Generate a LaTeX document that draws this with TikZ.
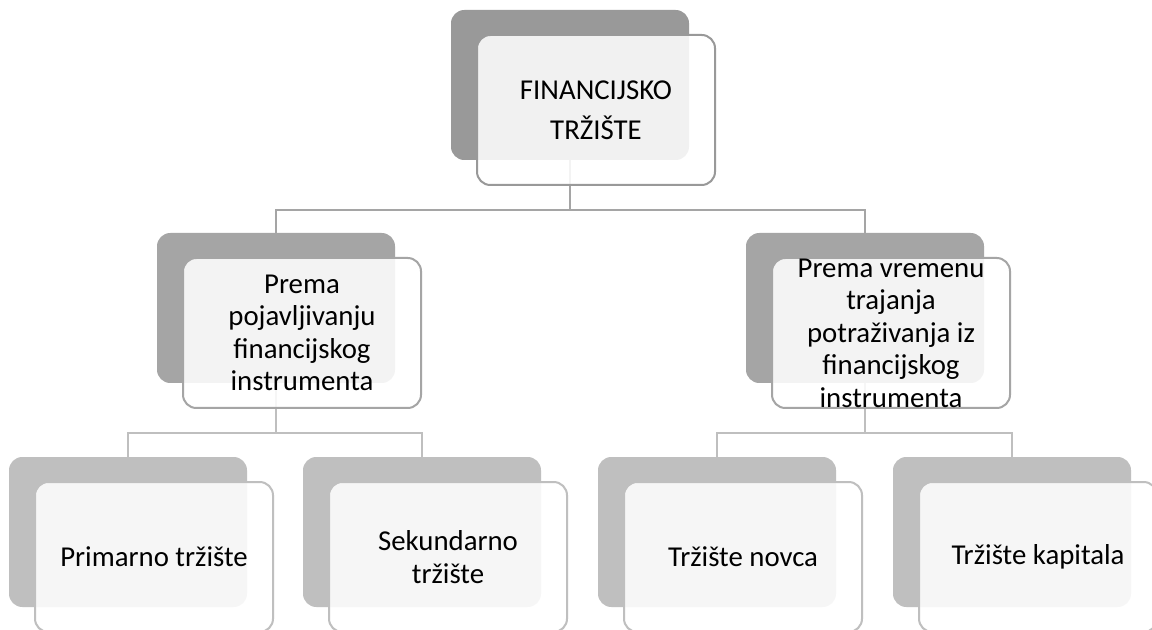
\documentclass[tikz,border=0pt]{standalone}
\usepackage{fontspec}
\setmainfont{Carlito}
\usepackage{tikz}
\usetikzlibrary{positioning}
\definecolor{topgray}{RGB}{153,153,153}
\definecolor{midgray}{RGB}{165,165,165}
\definecolor{lowgray}{RGB}{191,191,191}

\begin{document}
\begin{tikzpicture}[x=0.75pt, y=-0.75pt,
  backbox/.style={minimum width=178.5pt, minimum height=112.5pt, rounded corners=10pt, inner sep=0pt},
  frontbox/.style={backbox, draw=#1, line width=1.5pt, fill=white, fill opacity=0.87},
  txt/.style={align=center, text=black, inner sep=0pt, font=\fontsize{21.6}{24.4}\selectfont},
  conn/.style={draw=#1, line width=1.5pt}]
  \fill[white] (0,0) rectangle (1152,630);
  \clip (0,0) rectangle (1152,630);
  % back boxes
  \node[backbox, fill=topgray] (topb) at (570,85) {};
  \node[backbox, fill=midgray] (l2ab) at (276,308) {};
  \node[backbox, fill=midgray] (l2bb) at (865,308) {};
  \node[backbox, fill=lowgray] (l3ab) at (128,532) {};
  \node[backbox, fill=lowgray] (l3bb) at (422,532) {};
  \node[backbox, fill=lowgray] (l3cb) at (717,532) {};
  \node[backbox, fill=lowgray] (l3db) at (1012,532) {};
  % connectors
  \coordinate (j0) at (570,210);
  \coordinate (j1) at (276,433);
  \coordinate (j2) at (865,433);
  \draw[conn=midgray] (topb.south) -- (j0) -| (l2ab.north);
  \draw[conn=midgray] (j0) -| (l2bb.north);
  \draw[conn=lowgray] (l2ab.south) -- (j1) -| (l3ab.north);
  \draw[conn=lowgray] (j1) -| (l3bb.north);
  \draw[conn=lowgray] (l2bb.south) -- (j2) -| (l3cb.north);
  \draw[conn=lowgray] (j2) -| (l3db.north);
  % front boxes
  \node[frontbox=topgray] (topf) at ([shift={(26,25)}]topb.center) {};
  \node[frontbox=midgray] (l2af) at ([shift={(26,25)}]l2ab.center) {};
  \node[frontbox=midgray] (l2bf) at ([shift={(26,25)}]l2bb.center) {};
  \node[frontbox=lowgray] (l3af) at ([shift={(26,25)}]l3ab.center) {};
  \node[frontbox=lowgray] (l3bf) at ([shift={(26,25)}]l3bb.center) {};
  \node[frontbox=lowgray] (l3cf) at ([shift={(26,25)}]l3cb.center) {};
  \node[frontbox=lowgray] (l3df) at ([shift={(26,25)}]l3db.center) {};
  % labels
  \node[txt, font=\fontsize{21.6}{30}\selectfont] (topt) at (topf) {FINANCIJSKO\\TRŽIŠTE};
  \node[txt] (l2at) at (l2af) {Prema\\pojavljivanju\\financijskog\\instrumenta};
  \node[txt] (l2bt) at (l2bf) {Prema vremenu\\trajanja\\potraživanja iz\\financijskog\\instrumenta};
  \node[txt] (l3at) at (l3af) {Primarno tržište};
  \node[txt] (l3bt) at (l3bf) {Sekundarno\\tržište};
  \node[txt] (l3ct) at (l3cf) {Tržište novca};
  \node[txt] (l3dt) at (l3df) {Tržište kapitala};
\end{tikzpicture}
\end{document}
